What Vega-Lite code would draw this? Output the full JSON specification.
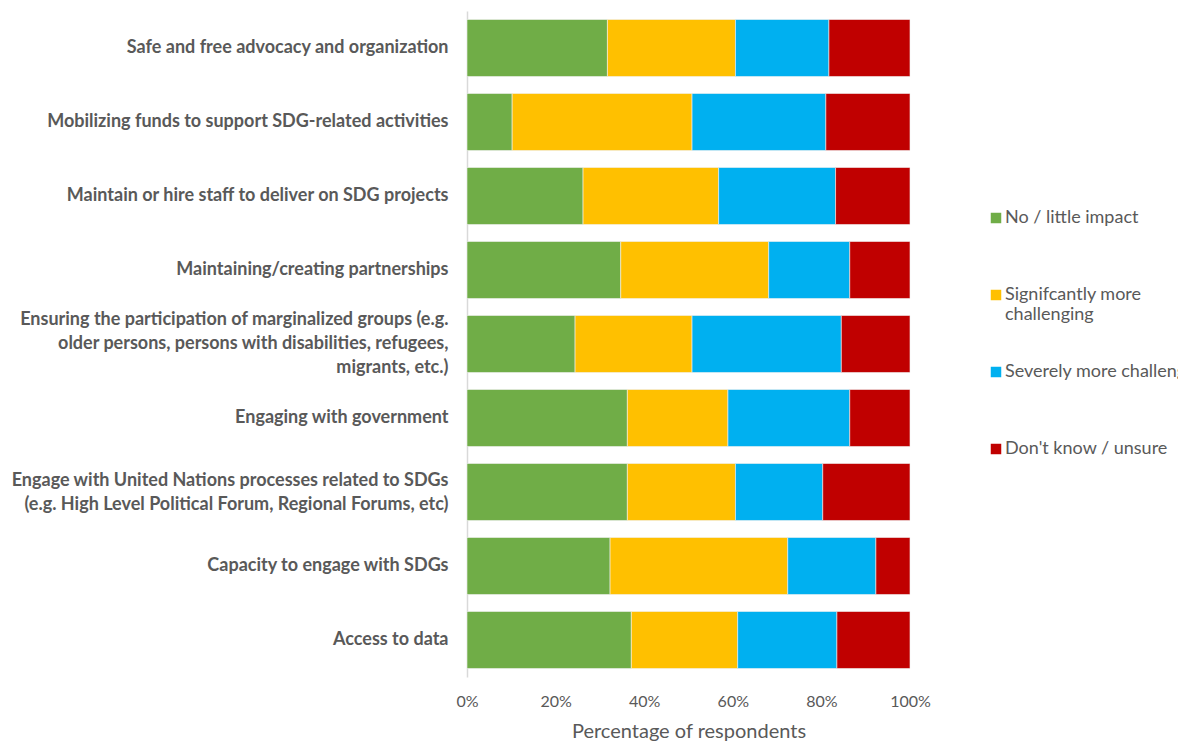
{
  "$schema": "https://vega.github.io/schema/vega-lite/v6.json",
  "autosize": {"type": "none"},
  "padding": {"left": 467, "top": 11, "right": 268, "bottom": 65},
  "width": 443,
  "height": 666,
  "background": "white",
  "config": {"view": {"stroke": null}, "font": "Lato"},
  "data": {"values": [
    {"category": "Safe and free advocacy and organization", "response": "No / little impact", "rank": 1, "pct": 31.7},
    {"category": "Safe and free advocacy and organization", "response": "Signifcantly more challenging", "rank": 2, "pct": 28.9},
    {"category": "Safe and free advocacy and organization", "response": "Severely more challenging", "rank": 3, "pct": 21.1},
    {"category": "Safe and free advocacy and organization", "response": "Don't know / unsure", "rank": 4, "pct": 18.3},
    {"category": "Mobilizing funds to support SDG-related activities", "response": "No / little impact", "rank": 1, "pct": 10.2},
    {"category": "Mobilizing funds to support SDG-related activities", "response": "Signifcantly more challenging", "rank": 2, "pct": 40.6},
    {"category": "Mobilizing funds to support SDG-related activities", "response": "Severely more challenging", "rank": 3, "pct": 30.2},
    {"category": "Mobilizing funds to support SDG-related activities", "response": "Don't know / unsure", "rank": 4, "pct": 19.0},
    {"category": "Maintain or hire staff to deliver on SDG projects", "response": "No / little impact", "rank": 1, "pct": 26.2},
    {"category": "Maintain or hire staff to deliver on SDG projects", "response": "Signifcantly more challenging", "rank": 2, "pct": 30.6},
    {"category": "Maintain or hire staff to deliver on SDG projects", "response": "Severely more challenging", "rank": 3, "pct": 26.4},
    {"category": "Maintain or hire staff to deliver on SDG projects", "response": "Don't know / unsure", "rank": 4, "pct": 16.8},
    {"category": "Maintaining/creating partnerships", "response": "No / little impact", "rank": 1, "pct": 34.7},
    {"category": "Maintaining/creating partnerships", "response": "Signifcantly more challenging", "rank": 2, "pct": 33.4},
    {"category": "Maintaining/creating partnerships", "response": "Severely more challenging", "rank": 3, "pct": 18.3},
    {"category": "Maintaining/creating partnerships", "response": "Don't know / unsure", "rank": 4, "pct": 13.6},
    {"category": "Ensuring the participation of marginalized groups (e.g.|older persons, persons with disabilities, refugees,|migrants, etc.)", "response": "No / little impact", "rank": 1, "pct": 24.4},
    {"category": "Ensuring the participation of marginalized groups (e.g.|older persons, persons with disabilities, refugees,|migrants, etc.)", "response": "Signifcantly more challenging", "rank": 2, "pct": 26.4},
    {"category": "Ensuring the participation of marginalized groups (e.g.|older persons, persons with disabilities, refugees,|migrants, etc.)", "response": "Severely more challenging", "rank": 3, "pct": 33.7},
    {"category": "Ensuring the participation of marginalized groups (e.g.|older persons, persons with disabilities, refugees,|migrants, etc.)", "response": "Don't know / unsure", "rank": 4, "pct": 15.5},
    {"category": "Engaging with government", "response": "No / little impact", "rank": 1, "pct": 36.2},
    {"category": "Engaging with government", "response": "Signifcantly more challenging", "rank": 2, "pct": 22.7},
    {"category": "Engaging with government", "response": "Severely more challenging", "rank": 3, "pct": 27.5},
    {"category": "Engaging with government", "response": "Don't know / unsure", "rank": 4, "pct": 13.6},
    {"category": "Engage with United Nations processes related to SDGs|(e.g. High Level Political Forum, Regional Forums, etc)", "response": "No / little impact", "rank": 1, "pct": 36.2},
    {"category": "Engage with United Nations processes related to SDGs|(e.g. High Level Political Forum, Regional Forums, etc)", "response": "Signifcantly more challenging", "rank": 2, "pct": 24.4},
    {"category": "Engage with United Nations processes related to SDGs|(e.g. High Level Political Forum, Regional Forums, etc)", "response": "Severely more challenging", "rank": 3, "pct": 19.7},
    {"category": "Engage with United Nations processes related to SDGs|(e.g. High Level Political Forum, Regional Forums, etc)", "response": "Don't know / unsure", "rank": 4, "pct": 19.7},
    {"category": "Capacity to engage with SDGs", "response": "No / little impact", "rank": 1, "pct": 32.3},
    {"category": "Capacity to engage with SDGs", "response": "Signifcantly more challenging", "rank": 2, "pct": 40.1},
    {"category": "Capacity to engage with SDGs", "response": "Severely more challenging", "rank": 3, "pct": 19.9},
    {"category": "Capacity to engage with SDGs", "response": "Don't know / unsure", "rank": 4, "pct": 7.7},
    {"category": "Access to data", "response": "No / little impact", "rank": 1, "pct": 37.1},
    {"category": "Access to data", "response": "Signifcantly more challenging", "rank": 2, "pct": 24.0},
    {"category": "Access to data", "response": "Severely more challenging", "rank": 3, "pct": 22.4},
    {"category": "Access to data", "response": "Don't know / unsure", "rank": 4, "pct": 16.5}
  ]},
  "mark": {"type": "bar", "stroke": "#f2f2f2", "strokeWidth": 0.6},
  "encoding": {
    "y": {
      "field": "category", "type": "nominal", "sort": null,
      "scale": {"paddingInner": 0.23, "paddingOuter": 0.115},
      "axis": {
        "title": null, "ticks": false, "domainColor": "#d9d9d9", "domainWidth": 1.5,
        "labelExpr": "split(datum.label, '|')",
        "labelFont": "Lato", "labelFontSize": 18, "labelFontWeight": "bold", "labelColor": "#595959",
        "labelLimit": 500, "labelPadding": 19, "labelLineHeight": 24, "labelBaseline": "middle",
        "labelOffset": {"condition": [
          {"test": "indexof(datum.value, 'older persons') >= 0", "value": -24},
          {"test": "indexof(datum.value, 'High Level') >= 0", "value": -11}
        ], "value": 0}
      }
    },
    "x": {
      "field": "pct", "type": "quantitative", "stack": "normalize",
      "scale": {"domain": [0, 1], "nice": false},
      "axis": {
        "title": "Percentage of respondents", "format": "%", "values": [0, 0.2, 0.4, 0.6, 0.8, 1],
        "grid": false, "domain": false, "ticks": false, "labelFlush": false,
        "labelFont": "Lato", "labelFontSize": 16, "labelColor": "#595959", "labelPadding": 16,
        "titleFont": "Lato", "titleFontSize": 20, "titleFontWeight": "normal", "titleColor": "#595959", "titlePadding": 12
      }
    },
    "color": {
      "field": "response", "type": "nominal",
      "scale": {
        "domain": ["No / little impact", "Signifcantly more challenging", "Severely more challenging", "Don't know / unsure"],
        "range": ["#70AD47", "#FFC000", "#00B0F0", "#C00000"]
      },
      "legend": {
        "title": null, "orient": "none", "legendX": 520, "legendY": 198,
        "symbolType": "square", "symbolSize": 110, "symbolStrokeWidth": 0,
        "labelFont": "Lato", "labelFontSize": 18, "labelColor": "#595959", "labelLimit": 400,
        "labelOffset": 0, "rowPadding": 39, "gridAlign": "all",
        "labelExpr": "datum.label == 'Signifcantly more challenging' ? ['Signifcantly more', 'challenging'] : datum.label"
      }
    },
    "order": {"field": "rank", "type": "quantitative"}
  }
}
